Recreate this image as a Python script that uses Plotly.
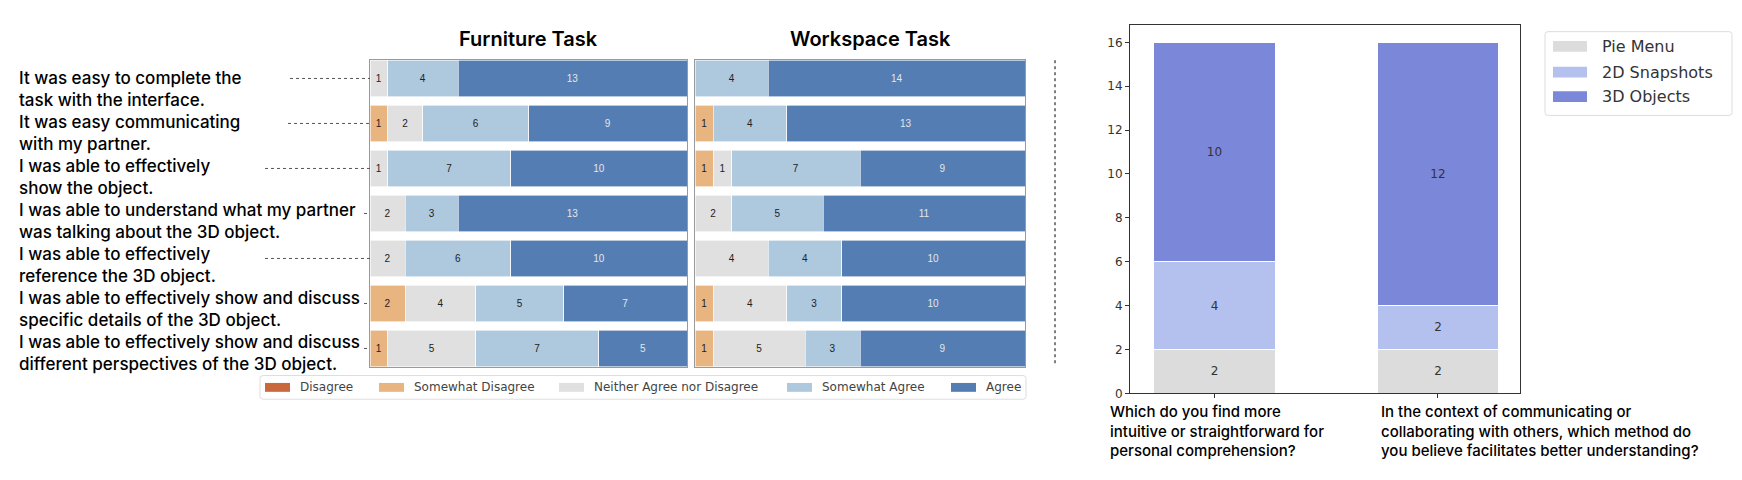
import plotly.graph_objects as go

W, H = 1742, 480

# ---- data ----
questions = [
    "It was easy to complete the<br>task with the interface.",
    "It was easy communicating<br>with my partner.",
    "I was able to effectively<br>show the object.",
    "I was able to understand what my partner<br>was talking about the 3D object.",
    "I was able to effectively<br>reference the 3D object.",
    "I was able to effectively show and discuss<br>specific details of the 3D object.",
    "I was able to effectively show and discuss<br>different perspectives of the 3D object.",
]
likert = ["Disagree", "Somewhat Disagree", "Neither Agree nor Disagree",
          "Somewhat Agree", "Agree"]

# rows = questions, columns = likert levels
furniture_counts = [
    [0, 0, 1, 4, 13],
    [0, 1, 2, 6, 9],
    [0, 0, 1, 7, 10],
    [0, 0, 2, 3, 13],
    [0, 0, 2, 6, 10],
    [0, 2, 4, 5, 7],
    [0, 1, 5, 7, 5],
]
workspace_counts = [
    [0, 0, 0, 4, 14],
    [0, 1, 0, 4, 13],
    [0, 1, 1, 7, 9],
    [0, 0, 2, 5, 11],
    [0, 0, 4, 4, 10],
    [0, 1, 4, 3, 10],
    [0, 1, 5, 3, 9],
]

pref_questions = [
    "Which do you find more<br>intuitive or straightforward for<br>personal comprehension?",
    "In the context of communicating or<br>collaborating with others, which method do<br>you believe facilitates better understanding?",
]
methods = ["Pie Menu", "2D Snapshots", "3D Objects"]
pie_menu = [2, 2]
snapshots_2d = [4, 2]
objects_3d = [10, 12]

# ---- style / layout (pixels) ----
likert_colors = ["#c9673d", "#e8b47f", "#e0e0e0", "#aec8de", "#537db3"]
likert_text = ["#222222", "#222222", "#222222", "#222222", "#e6e6e6"]
method_colors = ["#dcdcdc", "#b4c1ee", "#7b87d9"]
leader_start = [282, 280, 257, 356, 257, 356, 356]
label_top0, label_pitch = 59, 44.6   # question text blocks are a bit tighter than the rows
likert_legend_x = [257, 371, 551, 779, 943]
method_legend_y = [39, 65, 90]


def px_x(v):
    return v / W


def px_y(v):
    return 1 - v / H


def rounded_box(x0, y0, x1, y1, r=3):
    # rounded rectangle path in paper coords, from pixel corners
    L, R, T, B = px_x(x0), px_x(x1), px_y(y0), px_y(y1)
    rx, ry = r / W, r / H
    return (f"M{L + rx},{T} L{R - rx},{T} Q{R},{T} {R},{T - ry} "
            f"L{R},{B + ry} Q{R},{B} {R - rx},{B} L{L + rx},{B} "
            f"Q{L},{B} {L},{B + ry} L{L},{T - ry} Q{L},{T} {L + rx},{T} Z")


fig = go.Figure()

rows = list(range(len(questions)))
for panel, counts in (("", furniture_counts), ("2", workspace_counts)):
    for j, name in enumerate(likert):
        vals = [r[j] for r in counts]
        fig.add_bar(
            y=rows, x=vals, orientation="h", name=name,
            xaxis="x" + panel, yaxis="y" + panel,
            marker=dict(color=likert_colors[j], line=dict(color="white", width=0.6)),
            text=[str(v) if v else "" for v in vals],
            textposition="inside", insidetextanchor="middle", textangle=0,
            textfont=dict(family="Liberation Sans", size=10, color=likert_text[j]),
            showlegend=False, hoverinfo="skip",
        )

xq = [0, 1]
for vals, name, col in zip((pie_menu, snapshots_2d, objects_3d), methods, method_colors):
    fig.add_bar(
        x=xq, y=vals, name=name, xaxis="x3", yaxis="y3", width=0.545,
        marker=dict(color=col, line=dict(color="white", width=1)),
        text=[str(v) for v in vals], textposition="inside",
        insidetextanchor="middle", textangle=0,
        textfont=dict(family="DejaVu Sans", size=12, color="#333333"),
        showlegend=False, hoverinfo="skip",
    )

panel_axis = dict(range=[0, 18], showgrid=False, zeroline=False, showticklabels=False,
                  ticks="", showline=True, mirror=True, linecolor="#9a9a9a", linewidth=1)
row_axis = dict(range=[len(questions) - 0.595, -0.405], showgrid=False, zeroline=False,
                showticklabels=False, ticks="", showline=True, mirror=True,
                linecolor="#9a9a9a", linewidth=1)
y_dom = [px_y(364), px_y(53)]

fig.update_layout(
    width=W, height=H, margin=dict(l=0, r=0, t=0, b=0),
    paper_bgcolor="white", plot_bgcolor="white",
    barmode="stack", bargap=0.19, showlegend=False,
    uniformtext=dict(minsize=10, mode="show"),
    xaxis=dict(panel_axis, domain=[px_x(362), px_x(679)], anchor="y"),
    yaxis=dict(row_axis, domain=y_dom, anchor="x"),
    xaxis2=dict(panel_axis, domain=[px_x(687), px_x(1017)], anchor="y2"),
    yaxis2=dict(row_axis, domain=y_dom, anchor="x2"),
    xaxis3=dict(domain=[px_x(1122), px_x(1512)], anchor="y3", range=[-0.378, 1.367],
                tickvals=xq, ticktext=["", ""], ticks="outside", ticklen=4,
                tickcolor="#333", showgrid=False, zeroline=False,
                showline=True, mirror=True, linecolor="#333", linewidth=1),
    yaxis3=dict(domain=[px_y(391), px_y(17)], anchor="x3", range=[0, 16.8], dtick=2,
                ticks="outside", ticklen=4, tickcolor="#333", showgrid=False,
                zeroline=False, showline=True, mirror=True, linecolor="#333",
                linewidth=1, tickfont=dict(family="DejaVu Sans", size=12, color="#333")),
)

# question labels and dotted leaders
for i, q in enumerate(questions):
    fig.add_annotation(text=q, xref="paper", x=px_x(9), yref="paper",
                       y=px_y(label_top0 + i * label_pitch),
                       xanchor="left", yanchor="top", align="left",
                       showarrow=False,
                       font=dict(family="Inter", size=17, color="black", weight=500))
    fig.add_shape(type="line", xref="paper", yref="y", x0=px_x(leader_start[i]),
                  x1=px_x(362), y0=i, y1=i, line=dict(color="#555", width=1, dash="dot"))

# panel titles
for txt, cx in (("Furniture Task", 520), ("Workspace Task", 862)):
    fig.add_annotation(text=txt, xref="paper", yref="paper", x=px_x(cx), y=px_y(31),
                       xanchor="center", yanchor="middle", showarrow=False,
                       font=dict(family="Inter", size=20, color="black", weight=600))

# separator
fig.add_shape(type="line", xref="paper", yref="paper", x0=px_x(1047), x1=px_x(1047),
              y0=px_y(53), y1=px_y(362), line=dict(color="black", width=1, dash="dot"))

# preference question labels
for q, lx in zip(pref_questions, (1100, 1371)):
    fig.add_annotation(text=q, xref="paper", yref="paper", x=px_x(lx), y=px_y(398),
                       xanchor="left", yanchor="top", align="left", showarrow=False,
                       font=dict(family="Inter", size=15, color="black", weight=500))

# likert legend (matplotlib-style box with wide swatches)
fig.add_shape(type="path", xref="paper", yref="paper",
              path=rounded_box(252, 373, 1018, 397),
              line=dict(color="#dddddd", width=1), fillcolor="white")
for name, col, lx in zip(likert, likert_colors, likert_legend_x):
    fig.add_shape(type="rect", xref="paper", yref="paper", x0=px_x(lx), x1=px_x(lx + 25),
                  y0=px_y(389.5), y1=px_y(380.5), line=dict(width=0), fillcolor=col)
    fig.add_annotation(text=name, xref="paper", yref="paper", x=px_x(lx + 33),
                       y=px_y(385), xanchor="left", yanchor="middle", showarrow=False,
                       font=dict(family="DejaVu Sans", size=12, color="#444"))

# method legend
fig.add_shape(type="path", xref="paper", yref="paper",
              path=rounded_box(1537, 24, 1724, 109),
              line=dict(color="#dddddd", width=1), fillcolor="white")
for name, col, ly in zip(methods, method_colors, method_legend_y):
    fig.add_shape(type="rect", xref="paper", yref="paper", x0=px_x(1545), x1=px_x(1579),
                  y0=px_y(ly + 5.5), y1=px_y(ly - 5.5), line=dict(width=0), fillcolor=col)
    fig.add_annotation(text=name, xref="paper", yref="paper", x=px_x(1592), y=px_y(ly),
                       xanchor="left", yanchor="middle", showarrow=False,
                       font=dict(family="DejaVu Sans", size=16, color="#333"))

fig.write_html("out.html")
